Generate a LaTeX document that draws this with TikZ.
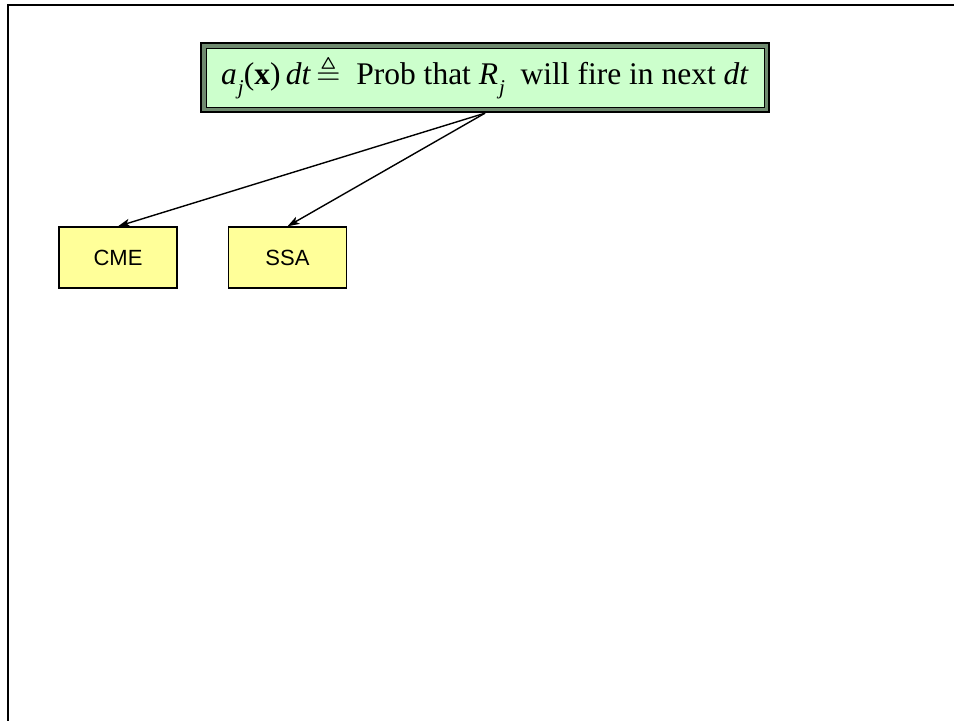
\documentclass[tikz,border=0pt]{standalone}
\usepackage{amsmath,amssymb}
\usepackage{fontspec}
\setmainfont{Liberation Serif}
\newfontfamily\boxfont{Liberation Sans}
\usetikzlibrary{arrows.meta,fit,backgrounds}
\definecolor{hdrfill}{HTML}{CCFFCC}
\definecolor{hdrgap}{HTML}{6F8A6F}
\definecolor{boxfill}{HTML}{FFFF99}
% lowered italic subscript j
\newcommand{\subj}{\raisebox{-0.32em}{\fontsize{21pt}{21pt}\selectfont\textit{j}}}
\tikzset{
  hdrtext/.style={draw=black, line width=0.9pt, fill=hdrfill, inner sep=0pt,
    minimum width=558pt, minimum height=59pt,
    font=\fontsize{31.5pt}{36pt}\selectfont},
  hdrframe/.style={draw=black, line width=2.2pt, fill=hdrgap, inner sep=4.6pt},
  methodbox/.style={draw=black, line width=1.4pt, fill=boxfill, inner sep=0pt,
    minimum width=118pt, minimum height=61pt,
    font=\boxfont\fontsize{22pt}{26pt}\selectfont},
  link/.style={line width=1.4pt, -{Stealth[length=12pt,width=8pt,inset=3pt]}},
  rule/.style={line width=2.6pt, black}
}
\begin{document}
\begin{tikzpicture}[x=1pt,y=-1pt]
\useasboundingbox (0,0) rectangle (954,721);
% page frame along the top and left edges
\coordinate (ftl) at (8,5);
\coordinate (ftr) at (954,5);
\coordinate (fbl) at (8,721);
\draw[rule] (ftr) -- (ftl) -- (fbl);
% definition banner
\node[hdrtext] (hdr) at (485,77.5)
  {\textit{a}\kern1pt\subj(\textbf{x})\,\textit{dt}\,$\triangleq$\ \ Prob that \textit{R}\kern1pt\subj\ \ will fire in next \textit{dt}};
\begin{scope}[on background layer]
  \node[hdrframe, fit=(hdr)] (hdrbox) {};
\end{scope}
% the two methods
\node[methodbox] (cme) at (118,257.5) {CME};
\node[methodbox] (ssa) at (287.5,257.5) {SSA};
\draw[link] (hdrbox.south) -- (cme.north);
\draw[link] (hdrbox.south) -- (ssa.north);
\end{tikzpicture}
\end{document}
